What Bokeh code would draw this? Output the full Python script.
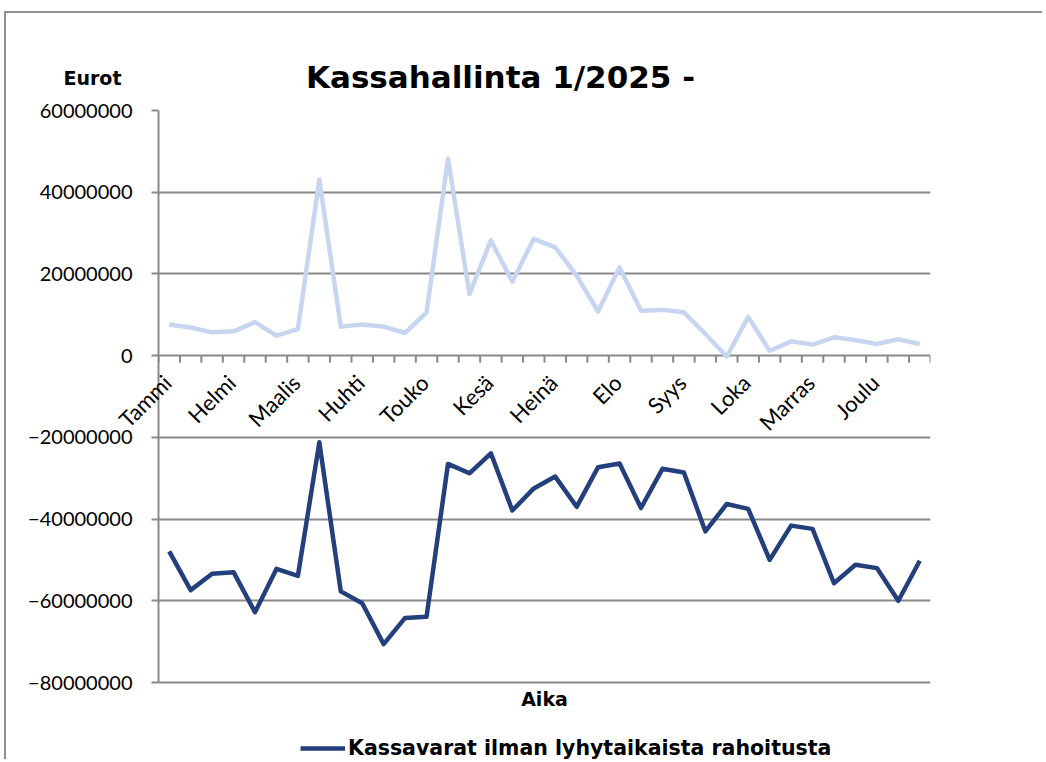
import math
from bokeh.plotting import figure
from bokeh.models import (Range1d, FixedTicker, BasicTickFormatter, Legend, LegendItem,
                          Label)
from bokeh.core.properties import value
from bokeh.embed import file_html
from bokeh.resources import INLINE

# ---- data ----
months = ["Tammi", "Helmi", "Maalis", "Huhti", "Touko", "Kesä",
          "Heinä", "Elo", "Syys", "Loka", "Marras", "Joulu"]
points_per_month = 3

# dark series: Kassavarat ilman lyhytaikaista rahoitusta (euros)
kassavarat_ilman = [
    -47.9e6, -57.4e6, -53.4e6, -53.0e6, -62.8e6, -52.2e6,
    -53.9e6, -21.2e6, -57.7e6, -60.6e6, -70.6e6, -64.2e6,
    -63.9e6, -26.5e6, -28.8e6, -23.9e6, -37.9e6, -32.5e6,
    -29.6e6, -37.0e6, -27.3e6, -26.4e6, -37.3e6, -27.7e6,
    -28.6e6, -43.0e6, -36.3e6, -37.5e6, -50.0e6, -41.6e6,
    -42.4e6, -55.7e6, -51.2e6, -52.0e6, -60.0e6, -50.2e6,
]
# light series (not listed in the visible legend)
kassavarat_kanssa = [
    7.6e6, 6.9e6, 5.7e6, 5.95e6, 8.2e6, 4.9e6,
    6.5e6, 43.1e6, 7.1e6, 7.6e6, 7.1e6, 5.55e6,
    10.6e6, 48.2e6, 15.1e6, 28.2e6, 18.1e6, 28.6e6,
    26.5e6, 19.6e6, 10.8e6, 21.6e6, 11.0e6, 11.2e6,
    10.6e6, 5.3e6, -0.2e6, 9.5e6, 1.2e6, 3.5e6,
    2.7e6, 4.5e6, 3.8e6, 2.85e6, 4.0e6, 2.85e6,
]
y_ticks = [-80e6, -60e6, -40e6, -20e6, 0, 20e6, 40e6, 60e6]

title_text = "Kassahallinta 1/2025 -"
y_title = "Eurot"
x_title = "Aika"
legend_label = "Kassavarat ilman lyhytaikaista rahoitusta"

# ---- styling / layout ----
GRID = "#898989"
DARK = "#233f7c"
LIGHT = "#c8d5f0"
BOLD_FONT = "DejaVu Sans"
TICK_FONT = "Lato"

n = len(kassavarat_ilman)
xs = [i + 0.5 for i in range(n)]
y_lo, y_hi = min(y_ticks), max(y_ticks)

W, H = 1038, 748            # canvas (page origin of canvas: 6, 13)
ML, MR, MT = 152, 114, 97   # frame spans x 158..930, top at y 110
AXIS_PX = 572               # pixel height of the -80M..60M value band
frame_w = W - ML - MR
frame_h = H - MT            # frame reaches the canvas bottom (room for the legend)
px_x = frame_w / n
px_y = AXIS_PX / (y_hi - y_lo)
y_bottom = y_hi - frame_h / px_y


def dx(px):  # horizontal pixel offset from frame left -> data x
    return px / px_x


def dy(px):  # vertical pixel offset above the 60M line -> data y
    return y_hi + px / px_y


p = figure(width=W, height=H, output_backend="svg", toolbar_location=None,
           x_range=Range1d(0, n), y_range=Range1d(y_bottom, y_hi),
           min_border_left=ML, min_border_right=MR, min_border_top=MT, min_border_bottom=0,
           outline_line_color=None)
p.styles = {"margin-left": "4px", "margin-top": "11px",
            "border-top": "2px solid #8f8f8f", "border-left": "2px solid #8f8f8f"}

# y axis
p.yaxis.ticker = FixedTicker(ticks=y_ticks)
p.yaxis.bounds = (y_lo, y_hi)
p.yaxis.formatter = BasicTickFormatter(use_scientific=False)
p.yaxis.axis_line_color = GRID
p.yaxis.axis_line_width = 2
p.yaxis.major_tick_line_color = GRID
p.yaxis.major_tick_line_width = 2
p.yaxis.major_tick_out = 7
p.yaxis.major_tick_in = 0
p.yaxis.minor_tick_line_color = None
p.yaxis.major_label_standoff = 19
p.yaxis.major_label_text_font = TICK_FONT
p.yaxis.major_label_text_font_size = "20px"
p.yaxis.major_label_text_color = "black"
p.xaxis.visible = False

# grid
p.xgrid.grid_line_color = None
p.ygrid.ticker = FixedTicker(ticks=y_ticks)
p.ygrid.grid_line_color = GRID
p.ygrid.grid_line_width = 2

# category tick marks on the zero line
tick_len = 7 / px_y
bx = list(range(0, n + 1))
p.segment(x0=bx, y0=[0] * len(bx), x1=bx, y1=[-tick_len] * len(bx),
          line_color=GRID, line_width=2)

# month labels, rotated
lab_x = [xs[i * points_per_month] for i in range(len(months))]
p.text(x=lab_x[1:], y=[0] * (len(months) - 1), text=months[1:], angle=math.pi / 4,
       text_align="right", text_baseline="middle", x_offset=-2, y_offset=23,
       text_font=value(TICK_FONT), text_font_size="22px", text_color="black")
# the first label reaches past the y axis, so it is drawn unclipped from a side panel
p.add_layout(Label(x=lab_x[0], y=0, text=months[0], angle=math.pi / 4,
                   text_align="right", text_baseline="middle", x_offset=-2, y_offset=-23,
                   text_font=TICK_FONT, text_font_size="22px", text_color="black"), "right")

# lines
p.line(xs, kassavarat_kanssa, line_color=LIGHT, line_width=4.5, line_join="round")
r_dark = p.line(xs, kassavarat_ilman, line_color=DARK, line_width=4.5, line_join="round")

# title and the y-axis title, drawn unclipped from the top panel
p.add_layout(Label(x=dx(500 - 158), y=dy(110 - 76), text=title_text,
                   text_align="center", text_baseline="alphabetic",
                   text_font=BOLD_FONT, text_font_style="bold", text_font_size="31px",
                   text_color="black"), "above")
p.add_layout(Label(x=dx(92 - 158), y=dy(110 - 77), text=y_title,
                   text_align="center", text_baseline="alphabetic",
                   text_font=BOLD_FONT, text_font_style="bold", text_font_size="19px",
                   text_color="black"), "above")

# x-axis title under the value band
p.text(x=[n / 2], y=[y_lo], text=[x_title], text_align="center", text_baseline="alphabetic",
       y_offset=16, text_font=value(BOLD_FONT), text_font_style="bold",
       text_font_size="19px", text_color="black")

legend = Legend(items=[LegendItem(label=legend_label, renderers=[r_dark])],
                location=(142, 1), orientation="horizontal",
                label_text_font=BOLD_FONT, label_text_font_style="bold",
                label_text_font_size="20.5px", label_text_color="black",
                glyph_width=45, glyph_height=18, label_height=18, label_standoff=3,
                border_line_color=None, background_fill_alpha=0,
                padding=0, margin=0)
p.add_layout(legend)

open("out.html", "w").write(file_html(p, INLINE))
